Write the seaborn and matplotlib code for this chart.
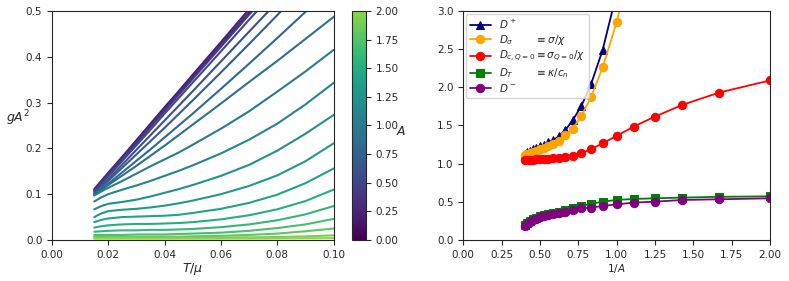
import numpy as np
import pandas as pd
import matplotlib
matplotlib.use('Agg')
import matplotlib.pyplot as plt
from matplotlib.colors import ListedColormap, Normalize
import seaborn as sns

# ---- left panel: gA^2 vs T/mu, one curve per A ----
T_mu = [0.015, 0.0175, 0.02, 0.025, 0.03, 0.035, 0.04, 0.045, 0.05, 0.06, 0.07, 0.08, 0.09, 0.1]
A_curves = [0.2, 0.3, 0.4, 0.5, 0.6, 0.7, 0.8, 0.9, 1.0, 1.1, 1.2, 1.3, 1.4, 1.5, 1.6, 1.7, 1.8, 1.9, 2.0]

gA2_a02 = [0.111, 0.129, 0.147, 0.182, 0.218, 0.254, 0.290, 0.325, 0.361, 0.432, 0.504, 0.575, 0.65, 0.72]
gA2_a03 = [0.109, 0.127, 0.144, 0.180, 0.215, 0.250, 0.285, 0.321, 0.356, 0.427, 0.497, 0.568, 0.64, 0.71]
gA2_a04 = [0.107, 0.125, 0.142, 0.177, 0.212, 0.247, 0.282, 0.317, 0.352, 0.422, 0.492, 0.562, 0.63, 0.70]
gA2_a05 = [0.105, 0.122, 0.139, 0.173, 0.207, 0.241, 0.276, 0.310, 0.344, 0.412, 0.481, 0.549, 0.62, 0.69]
gA2_a06 = [0.103, 0.118, 0.133, 0.165, 0.197, 0.229, 0.261, 0.293, 0.325, 0.390, 0.455, 0.520, 0.59, 0.66]
gA2_a07 = [0.101, 0.115, 0.129, 0.158, 0.187, 0.216, 0.245, 0.275, 0.305, 0.366, 0.428, 0.491, 0.555, 0.62]
gA2_a08 = [0.099, 0.111, 0.123, 0.148, 0.173, 0.198, 0.224, 0.250, 0.276, 0.330, 0.385, 0.441, 0.498, 0.556]
gA2_a09 = [0.098, 0.109, 0.120, 0.141, 0.162, 0.184, 0.206, 0.229, 0.252, 0.298, 0.345, 0.391, 0.439, 0.487]
gA2_a10 = [0.097, 0.106, 0.114, 0.129, 0.145, 0.161, 0.176, 0.191, 0.208, 0.243, 0.281, 0.324, 0.368, 0.415]
gA2_a11 = [0.084, 0.093, 0.100, 0.110, 0.119, 0.129, 0.140, 0.151, 0.163, 0.189, 0.219, 0.254, 0.296, 0.343]
gA2_a12 = [0.067, 0.074, 0.079, 0.083, 0.088, 0.095, 0.103, 0.111, 0.120, 0.140, 0.164, 0.195, 0.232, 0.273]
gA2_a13 = [0.050, 0.058, 0.063, 0.066, 0.068, 0.071, 0.075, 0.080, 0.086, 0.100, 0.118, 0.141, 0.172, 0.211]
gA2_a14 = [0.039, 0.044, 0.047, 0.050, 0.051, 0.052, 0.053, 0.055, 0.059, 0.068, 0.081, 0.099, 0.124, 0.156]
gA2_a15 = [0.027, 0.030, 0.032, 0.034, 0.035, 0.035, 0.036, 0.037, 0.039, 0.045, 0.054, 0.067, 0.085, 0.110]
gA2_a16 = [0.018, 0.019, 0.020, 0.021, 0.021, 0.022, 0.022, 0.023, 0.024, 0.028, 0.034, 0.043, 0.056, 0.074]
gA2_a17 = [0.011, 0.011, 0.011, 0.011, 0.012, 0.012, 0.012, 0.013, 0.014, 0.016, 0.020, 0.026, 0.034, 0.046]
gA2_a18 = [0.007, 0.007, 0.007, 0.007, 0.007, 0.007, 0.007, 0.007, 0.008, 0.009, 0.011, 0.014, 0.019, 0.025]
gA2_a19 = [0.005, 0.005, 0.005, 0.005, 0.005, 0.005, 0.005, 0.005, 0.0051, 0.0053, 0.0057, 0.0065, 0.0078, 0.010]
gA2_a20 = [0.003, 0.003, 0.003, 0.003, 0.003, 0.003, 0.003, 0.003, 0.003, 0.0031, 0.0032, 0.0034, 0.0037, 0.004]

gA2_all = [gA2_a02, gA2_a03, gA2_a04, gA2_a05, gA2_a06, gA2_a07, gA2_a08, gA2_a09, gA2_a10, gA2_a11,
           gA2_a12, gA2_a13, gA2_a14, gA2_a15, gA2_a16, gA2_a17, gA2_a18, gA2_a19, gA2_a20]

# ---- right panel: diffusion constants vs 1/A ----
A_diff = [2.5, 2.4, 2.3, 2.2, 2.1, 2.0, 1.9, 1.8, 1.7, 1.6, 1.5, 1.4, 1.3, 1.2, 1.1, 1.0, 0.9, 0.8, 0.7, 0.6, 0.5]
D_plus = [1.13, 1.15, 1.17, 1.19, 1.21, 1.23, 1.25, 1.28, 1.31, 1.36, 1.44, 1.57, 1.75, 2.04, 2.49, 3.23, 4.3]
D_sigma = [1.11, 1.12, 1.14, 1.15, 1.17, 1.19, 1.21, 1.23, 1.26, 1.30, 1.37, 1.46, 1.62, 1.87, 2.26, 2.85, 3.8]
D_cQ0 = [1.045, 1.047, 1.05, 1.052, 1.055, 1.058, 1.06, 1.065, 1.07, 1.075, 1.085, 1.105, 1.135, 1.19, 1.266,
         1.363, 1.485, 1.616, 1.77, 1.93, 2.09]
D_T = [0.20, 0.22, 0.245, 0.27, 0.29, 0.31, 0.325, 0.34, 0.355, 0.362, 0.393, 0.415, 0.446, 0.472, 0.502,
       0.524, 0.537, 0.546, 0.555, 0.565, 0.572]
D_minus = [0.188, 0.21, 0.235, 0.26, 0.28, 0.30, 0.315, 0.33, 0.345, 0.355, 0.365, 0.393, 0.415, 0.424, 0.446,
           0.467, 0.489, 0.502, 0.524, 0.533, 0.546]

sns.set_style('ticks')
plt.rcParams['font.family'] = ['DejaVu Sans']

fig = plt.figure(figsize=(7.89, 2.81), dpi=100)
ax1 = fig.add_axes([0.0659, 0.146, 0.357, 0.815])
cax = fig.add_axes([0.446, 0.146, 0.0177, 0.815])
ax2 = fig.add_axes([0.587, 0.146, 0.389, 0.815])

cmap = ListedColormap(plt.cm.viridis(np.linspace(0, 0.83, 256)))
norm = Normalize(vmin=0, vmax=2)

rows = []
for a, ys in zip(A_curves, gA2_all):
    for t, y in zip(T_mu, ys):
        rows.append({'T': t, 'gA2': y, 'A': a})
df = pd.DataFrame(rows)

sns.lineplot(data=df, x='T', y='gA2', hue='A', palette=cmap, hue_norm=norm,
             estimator=None, sort=True, legend=False, linewidth=1.5, ax=ax1)
ax1.set_xlim(0, 0.1)
ax1.set_ylim(0, 0.5)
ax1.set_xlabel(r'$T/\mu$', fontsize=9, labelpad=1)
ax1.set_ylabel(r'$gA^2$', fontsize=9, rotation=0)
ax1.yaxis.set_label_coords(-0.12, 0.49)
ax1.tick_params(labelsize=7.5)

sm = plt.cm.ScalarMappable(cmap=cmap, norm=norm)
cb = fig.colorbar(sm, cax=cax)
cb.ax.tick_params(labelsize=7.5)
cb.set_label(r'$A$', fontsize=9, rotation=0, labelpad=2)

inv_A = [1.0 / a for a in A_diff]
series = [
    (D_plus, r'$D^+$', 'navy', '^'),
    (D_sigma, r'$D_\sigma$       $\equiv \sigma/\chi$', 'orange', 'o'),
    (D_cQ0, r'$D_{c,Q=0}\equiv \sigma_{Q=0}/\chi$', 'red', 'o'),
    (D_T, r'$D_T$       $\equiv \kappa/c_n$', 'green', 's'),
    (D_minus, r'$D^-$', 'purple', 'o'),
]
for vals, lab, col, mk in series:
    sns.lineplot(x=inv_A[:len(vals)], y=vals, color=col, marker=mk, markersize=6,
                 markeredgecolor=col, linewidth=1.3, label=lab, estimator=None, ax=ax2)
ax2.set_xlim(0, 2)
ax2.set_ylim(0, 3)
ax2.set_xlabel(r'$1/A$', fontsize=7.5, labelpad=2)
ax2.tick_params(labelsize=7.5)
ax2.legend(loc='upper left', fontsize=7.5, handlelength=2, labelspacing=0.2,
           borderaxespad=0.3, borderpad=0.35)

fig.savefig('out.png', dpi=100)
